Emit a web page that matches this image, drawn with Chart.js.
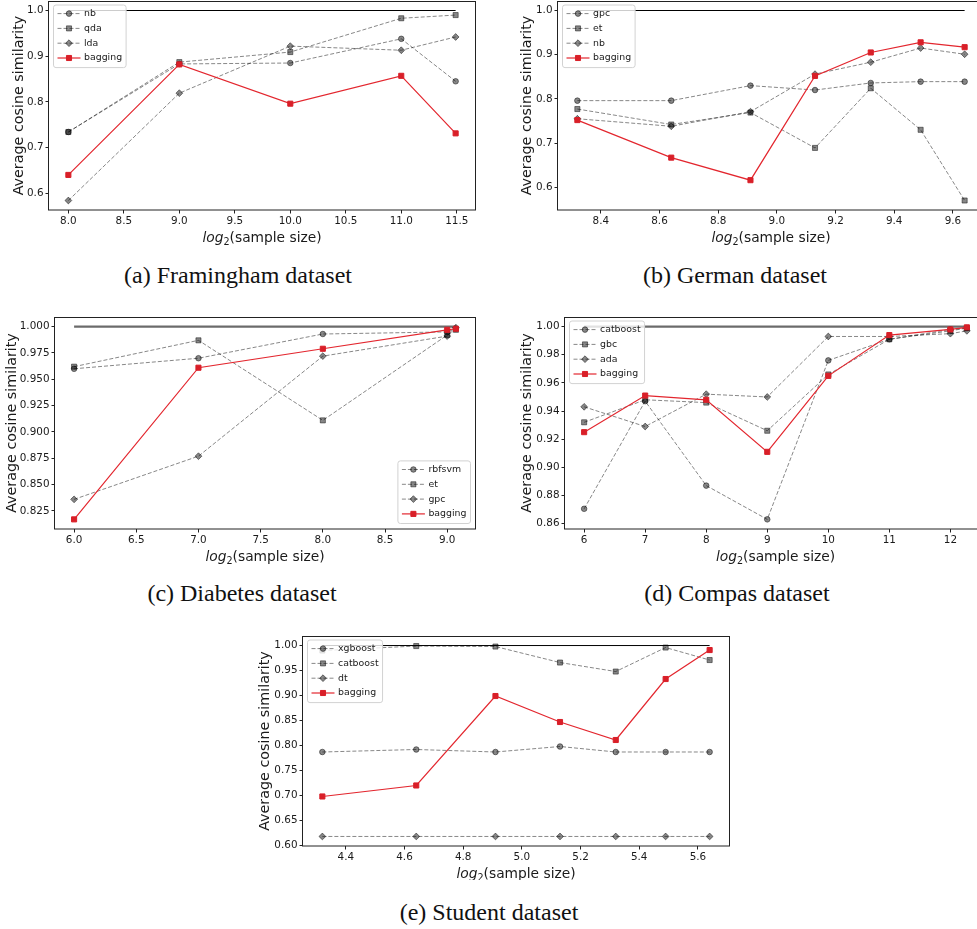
<!DOCTYPE html>
<html>
<head>
<meta charset="utf-8">
<script src="https://cdn.jsdelivr.net/npm/chart.js@4.4.1/dist/chart.umd.min.js"></script>
<style>
  html, body { margin: 0; padding: 0; background: #fff; overflow: hidden; }
  #fig { position: relative; width: 977px; height: 929px; overflow: hidden; background: #fff; }
  #fig canvas { position: absolute; }
  .caption {
    position: absolute;
    font-family: 'Liberation Serif', 'Times New Roman', serif;
    font-size: 24px; line-height: 26px; color: #111;
    white-space: nowrap; transform: translateX(-50%);
  }
</style>
</head>
<body>
<div id="fig">
  <canvas id="cFram" width="490" height="260" style="left:0px;top:0px"></canvas>
  <canvas id="cGerm" width="510" height="260" style="left:490px;top:0px"></canvas>
  <canvas id="cDiab" width="490" height="275" style="left:0px;top:300px"></canvas>
  <canvas id="cComp" width="510" height="275" style="left:490px;top:300px"></canvas>
  <canvas id="cStud" width="500" height="260" style="left:240px;top:620px"></canvas>
  <div class="caption" style="left:238px;top:262px">(a) Framingham dataset</div>
  <div class="caption" style="left:735px;top:262px">(b) German dataset</div>
  <div class="caption" style="left:242px;top:580px">(c) Diabetes dataset</div>
  <div class="caption" style="left:737px;top:580px">(d) Compas dataset</div>
  <div class="caption" style="left:489px;top:899px">(e) Student dataset</div>
</div>
<script>
// ---- Framingham: log2(sample size) and average cosine similarity ----
const framX   = [8.0, 9.0, 10.0, 11.0, 11.49];
const framNb  = [0.734, 0.883, 0.885, 0.938, 0.845];
const framQda = [0.734, 0.887, 0.909, 0.983, 0.990];
const framLda = [0.584, 0.819, 0.922, 0.913, 0.942];
const framBag = [0.640, 0.882, 0.796, 0.857, 0.731];
const framXTicks = [8.0, 8.5, 9.0, 9.5, 10.0, 10.5, 11.0, 11.5];
const framYTicks = [0.6, 0.7, 0.8, 0.9, 1.0];

// ---- German ----
const germX   = [8.32, 8.64, 8.91, 9.13, 9.32, 9.49, 9.64];
const germGpc = [0.796, 0.796, 0.830, 0.820, 0.836, 0.839, 0.839];
const germEt  = [0.777, 0.742, 0.769, 0.689, 0.824, 0.730, 0.570];
const germNb  = [0.755, 0.738, 0.771, 0.856, 0.883, 0.915, 0.901];
const germBag = [0.752, 0.667, 0.616, 0.852, 0.905, 0.928, 0.917];
const germXTicks = [8.4, 8.6, 8.8, 9.0, 9.2, 9.4, 9.6];
const germYTicks = [0.6, 0.7, 0.8, 0.9, 1.0];

// ---- Diabetes ----
const diabX      = [6.0, 7.0, 8.0, 9.0, 9.07];
const diabRbfsvm = [0.960, 0.970, 0.993, 0.995, 0.998];
const diabEt     = [0.962, 0.987, 0.911, 0.992, 0.997];
const diabGpc    = [0.836, 0.877, 0.972, 0.991, 0.999];
const diabBag    = [0.817, 0.961, 0.979, 0.997, 0.998];
const diabXTicks = [6.0, 6.5, 7.0, 7.5, 8.0, 8.5, 9.0];
const diabYTicks = [0.825, 0.850, 0.875, 0.900, 0.925, 0.950, 0.975, 1.000];

// ---- Compas ----
const compX        = [6, 7, 8, 9, 10, 11, 12, 12.27];
const compCatboost = [0.8705, 0.947, 0.887, 0.863, 0.976, 0.991, 0.998, 0.999];
const compGbc      = [0.932, 0.948, 0.946, 0.926, 0.966, 0.991, 0.997, 0.999];
const compAda      = [0.943, 0.929, 0.952, 0.950, 0.993, 0.993, 0.995, 0.997];
const compBag      = [0.925, 0.951, 0.948, 0.911, 0.965, 0.994, 0.998, 0.9995];
const compXTicks = [6, 7, 8, 9, 10, 11, 12];
const compYTicks = [0.86, 0.88, 0.90, 0.92, 0.94, 0.96, 0.98, 1.00];

// ---- Student ----
const studX        = [4.32, 4.64, 4.91, 5.13, 5.32, 5.49, 5.64];
const studXgboost  = [0.787, 0.792, 0.787, 0.798, 0.787, 0.787, 0.787];
const studCatboost = [0.990, 0.999, 0.998, 0.966, 0.948, 0.996, 0.971];
const studDt       = [0.618, 0.618, 0.618, 0.618, 0.618, 0.618, 0.618];
const studBag      = [0.698, 0.720, 0.899, 0.847, 0.811, 0.933, 0.991];
const studXTicks = [4.4, 4.6, 4.8, 5.0, 5.2, 5.4, 5.6];
const studYTicks = [0.60, 0.65, 0.70, 0.75, 0.80, 0.85, 0.90, 0.95, 1.00];

// ---------------------------------------------------------------
const GRAY = 'rgba(0,0,0,0.47)';
const RED_LINE = '#e3262e';
const RED_MARK = '#d91f28';
const TEXT = '#1a1a1a';
const FONT = "'DejaVu Sans', sans-serif";
const MARK_R = { circle: 2.8, rect: 3.6, rectRot: 3.4 };

function drawMarker(ctx, style, x, y, r) {
  ctx.beginPath();
  if (style === 'circle') {
    ctx.arc(x, y, r, 0, Math.PI * 2);
  } else if (style === 'rect') {
    const s = r * Math.SQRT1_2;
    ctx.rect(x - s, y - s, 2 * s, 2 * s);
  } else {
    ctx.moveTo(x, y - r); ctx.lineTo(x + r, y); ctx.lineTo(x, y + r); ctx.lineTo(x - r, y);
    ctx.closePath();
  }
  ctx.fill();
  ctx.stroke();
}

// frame, axis labels and legend box for each panel
const panelDecor = {
  id: 'panelDecor',
  afterDraw(chart, args, o) {
    const { ctx, chartArea: a } = chart;
    ctx.save();

    // full axes frame
    ctx.strokeStyle = '#222';
    ctx.lineWidth = 1;
    ctx.setLineDash([]);
    ctx.strokeRect(Math.round(a.left) - 0.5, Math.round(a.top) + 0.5,
                   Math.round(a.right - a.left) + 1, Math.round(a.bottom - a.top) - 0.5);

    // y label
    ctx.fillStyle = TEXT;
    ctx.save();
    ctx.translate(o.ylabelX, (a.top + a.bottom) / 2);
    ctx.rotate(-Math.PI / 2);
    ctx.font = `14.3px ${FONT}`;
    ctx.textAlign = 'center';
    ctx.textBaseline = 'middle';
    ctx.fillText('Average cosine similarity', 0, 0);
    ctx.restore();

    // x label: italic "log", subscript 2, "(sample size)"
    const fs = 13.8;
    const fItal = `italic ${fs}px ${FONT}`, fSub = `${fs * 0.7}px ${FONT}`, fReg = `${fs}px ${FONT}`;
    ctx.font = fItal; const w1 = ctx.measureText('log').width;
    ctx.font = fSub;  const w2 = ctx.measureText('2').width;
    ctx.font = fReg;  const w3 = ctx.measureText('(sample size)').width;
    let xx = (a.left + a.right) / 2 - (w1 + w2 + w3) / 2;
    const base = a.bottom + 27 + fs * 0.36;
    ctx.textAlign = 'left';
    ctx.textBaseline = 'alphabetic';
    ctx.font = fItal; ctx.fillText('log', xx, base); xx += w1;
    ctx.font = fSub;  ctx.fillText('2', xx, base + fs * 0.22); xx += w2;
    ctx.font = fReg;  ctx.fillText('(sample size)', xx, base);

    // legend
    const items = chart.data.datasets.filter(d => d.label);
    const lfs = 9.4;
    ctx.font = `${lfs}px ${FONT}`;
    const tw = Math.max(...items.map(d => ctx.measureText(d.label).width));
    const bw = 4 + 23 + 3.5 + tw + 4;
    const row = 14.8;
    const bh = 8.6 + row * (items.length - 1) + 9.6;
    let bx, by;
    if (o.legend === 'br') { bx = a.right - 4.5 - bw; by = a.bottom - 5.5 - bh; }
    else { bx = a.left + 4.5; by = a.top + 4; }
    ctx.beginPath();
    ctx.roundRect(bx, by, bw, bh, 2.5);
    ctx.fillStyle = 'rgba(255,255,255,0.8)';
    ctx.fill();
    ctx.strokeStyle = '#d2d2d2';
    ctx.lineWidth = 1;
    ctx.stroke();
    items.forEach((d, i) => {
      const yy = by + 8.6 + row * i;
      ctx.strokeStyle = d.borderColor;
      ctx.lineWidth = d.borderWidth;
      ctx.setLineDash(d.borderDash || []);
      ctx.beginPath();
      ctx.moveTo(bx + 4, yy); ctx.lineTo(bx + 27, yy);
      ctx.stroke();
      ctx.setLineDash([]);
      ctx.fillStyle = d.pointBackgroundColor;
      ctx.strokeStyle = d.pointBorderColor;
      ctx.lineWidth = 1;
      drawMarker(ctx, d.pointStyle, bx + 15.5, yy, d.pointRadius);
      ctx.fillStyle = TEXT;
      ctx.textAlign = 'left';
      ctx.textBaseline = 'middle';
      ctx.fillText(d.label, bx + 30.5, yy);
    });
    ctx.restore();
  }
};

function paddedRange(vals) {
  const lo = Math.min(...vals), hi = Math.max(...vals), m = (hi - lo) * 0.05;
  return [lo - m, hi + m];
}

function buildPanel(p) {
  const [cx, cy, cw, ch] = p.box;
  const [L, T, R, B] = p.area;
  const yW = L - cx, xH = cy + ch - B, padTop = T - cy, padRight = cx + cw - R;
  const xr = paddedRange(p.x);
  const allY = [1.0, ...p.bagging, ...p.series.flatMap(s => s.data)];
  const yr = paddedRange(allY);
  const pts = arr => p.x.map((x, j) => ({ x, y: arr[j] }));

  const datasets = [];
  datasets.push({
    data: [{ x: p.x[0], y: 1.0 }, { x: p.x[p.x.length - 1], y: 1.0 }],
    borderColor: p.refThick ? 'rgba(0,0,0,0.58)' : '#000',
    borderWidth: p.refThick ? 2.2 : 1,
    pointRadius: 0, order: 10
  });
  p.series.forEach((s, i) => datasets.push({
    label: s.label, data: pts(s.data),
    borderColor: GRAY, borderWidth: 1, borderDash: [4, 2],
    pointStyle: s.style, pointRadius: MARK_R[s.style],
    pointBackgroundColor: GRAY, pointBorderColor: GRAY, pointBorderWidth: 1,
    order: 5 - i
  }));
  datasets.push({
    label: 'bagging', data: pts(p.bagging),
    borderColor: RED_LINE, borderWidth: 1.2,
    pointStyle: 'rect', pointRadius: 3.6,
    pointBackgroundColor: RED_MARK, pointBorderColor: RED_MARK, pointBorderWidth: 1,
    order: 0
  });

  const tickFont = { family: FONT, size: 10.4 };
  const gridOpts = { display: true, drawOnChartArea: false, drawTicks: true, tickLength: 3.5, color: '#222', lineWidth: 1 };

  new Chart(document.getElementById(p.canvas), {
    type: 'line',
    data: { datasets },
    options: {
      responsive: false, animation: false, events: [],
      layout: { autoPadding: false, padding: { left: 0, top: padTop, right: padRight, bottom: 0 } },
      elements: { line: { tension: 0 } },
      plugins: {
        legend: { display: false }, tooltip: { enabled: false },
        panelDecor: { ylabelX: p.ylabelX - cx, legend: p.legend }
      },
      scales: {
        x: {
          type: 'linear', min: xr[0], max: xr[1],
          afterBuildTicks: s => { s.ticks = p.xTicks.map(v => ({ value: v })); },
          afterFit: s => { s.height = xH; s.paddingLeft = 0; s.paddingRight = 0; },
          ticks: { callback: v => v.toFixed(p.xDec), font: tickFont, color: TEXT, padding: 2, maxRotation: 0, autoSkip: false },
          grid: gridOpts, border: { display: false }
        },
        y: {
          type: 'linear', min: yr[0], max: yr[1],
          afterBuildTicks: s => { s.ticks = p.yTicks.map(v => ({ value: v })); },
          afterFit: s => { s.width = yW; s.paddingTop = 0; s.paddingBottom = 0; },
          ticks: { callback: v => v.toFixed(p.yDec), font: tickFont, color: TEXT, padding: 2, autoSkip: false },
          grid: gridOpts, border: { display: false }
        }
      }
    },
    plugins: [panelDecor]
  });
}

const panels = [
  { canvas: 'cFram', box: [0, 0, 490, 260], area: [49, 1, 475, 210], ylabelX: 19, legend: 'tl',
    x: framX, series: [{ label: 'nb', data: framNb, style: 'circle' }, { label: 'qda', data: framQda, style: 'rect' }, { label: 'lda', data: framLda, style: 'rectRot' }],
    bagging: framBag, xTicks: framXTicks, xDec: 1, yTicks: framYTicks, yDec: 1, refThick: false },
  { canvas: 'cGerm', box: [490, 0, 510, 260], area: [558, 1, 984, 210], ylabelX: 527.5, legend: 'tl',
    x: germX, series: [{ label: 'gpc', data: germGpc, style: 'circle' }, { label: 'et', data: germEt, style: 'rect' }, { label: 'nb', data: germNb, style: 'rectRot' }],
    bagging: germBag, xTicks: germXTicks, xDec: 1, yTicks: germYTicks, yDec: 1, refThick: false },
  { canvas: 'cDiab', box: [0, 300, 490, 275], area: [55, 317, 475, 529], ylabelX: 12, legend: 'br',
    x: diabX, series: [{ label: 'rbfsvm', data: diabRbfsvm, style: 'circle' }, { label: 'et', data: diabEt, style: 'rect' }, { label: 'gpc', data: diabGpc, style: 'rectRot' }],
    bagging: diabBag, xTicks: diabXTicks, xDec: 1, yTicks: diabYTicks, yDec: 3, refThick: true },
  { canvas: 'cComp', box: [490, 300, 510, 275], area: [565, 317, 986, 529], ylabelX: 527.5, legend: 'tl',
    x: compX, series: [{ label: 'catboost', data: compCatboost, style: 'circle' }, { label: 'gbc', data: compGbc, style: 'rect' }, { label: 'ada', data: compAda, style: 'rectRot' }],
    bagging: compBag, xTicks: compXTicks, xDec: 0, yTicks: compYTicks, yDec: 2, refThick: true },
  { canvas: 'cStud', box: [240, 620, 500, 260], area: [303, 636, 729, 846], ylabelX: 265, legend: 'tl',
    x: studX, series: [{ label: 'xgboost', data: studXgboost, style: 'circle' }, { label: 'catboost', data: studCatboost, style: 'rect' }, { label: 'dt', data: studDt, style: 'rectRot' }],
    bagging: studBag, xTicks: studXTicks, xDec: 1, yTicks: studYTicks, yDec: 2, refThick: false }
];

panels.forEach(buildPanel);
</script>
</body>
</html>
